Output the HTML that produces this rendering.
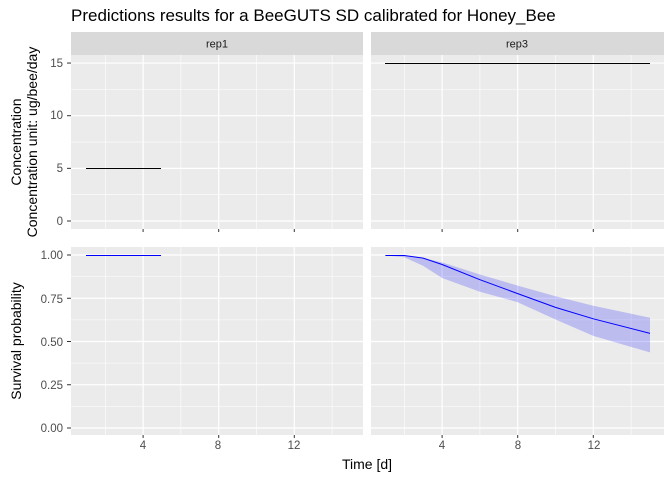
<!DOCTYPE html>
<html><head><meta charset="utf-8"><style>
body{margin:0;background:#fff}
svg{display:block;font-family:"Liberation Sans",Arial,sans-serif}
</style></head><body>
<svg id="s" width="672" height="480" viewBox="0 0 672 480" xmlns="http://www.w3.org/2000/svg">
<rect width="672" height="480" fill="#fff"/>
<text x="71" y="21" font-size="17" fill="#000">Predictions results for a BeeGUTS SD calibrated for Honey_Bee</text>
<rect x="71" y="32" width="292" height="23" fill="#d9d9d9"/>
<rect x="371" y="32" width="293" height="23" fill="#d9d9d9"/>
<text x="217" y="47.5" font-size="11" fill="#1a1a1a" text-anchor="middle">rep1</text>
<text x="517" y="47.5" font-size="11" fill="#1a1a1a" text-anchor="middle">rep3</text>
<g id="panels"></g>
<g font-size="11.5" fill="#4d4d4d" text-anchor="end">
<text x="63" y="67">15</text><text x="63" y="119">10</text><text x="63" y="172">5</text><text x="63" y="225">0</text>
<text x="63" y="259">1.00</text><text x="63" y="303">0.75</text><text x="63" y="346">0.50</text><text x="63" y="389">0.25</text><text x="63" y="432">0.00</text>
</g>
<g font-size="11.5" fill="#4d4d4d" text-anchor="middle">
<text x="143" y="449">4</text><text x="218" y="449">8</text><text x="294" y="449">12</text>
<text x="442" y="449">4</text><text x="518" y="449">8</text><text x="594" y="449">12</text>
</g>
<text x="367" y="469" font-size="14" text-anchor="middle">Time [d]</text>
<text transform="translate(21,142) rotate(-90)" font-size="14" text-anchor="middle">Concentration</text>
<text transform="translate(37,142) rotate(-90)" font-size="14" text-anchor="middle">Concentration unit: ug/bee/day</text>
<text transform="translate(21,341) rotate(-90)" font-size="14" text-anchor="middle">Survival probability</text>
</svg>
<script>
const ns="http://www.w3.org/2000/svg",g=document.getElementById("panels");
function el(t,a){const e=document.createElementNS(ns,t);for(const k in a)e.setAttribute(k,a[k]);g.appendChild(e);return e;}
const P=[{x0:71,x1:363,o:67.5},{x0:371,x1:664,o:366.5}],k=18.9;
const R=[{y0:55,y1:229,yv:v=>221-v*10.53,maj:[0,5,10,15],min:[2.5,7.5,12.5]},{y0:247,y1:435,yv:v=>428-v*173,maj:[0,.25,.5,.75,1],min:[.125,.375,.625,.875]}];
P.forEach((p,pi)=>R.forEach((r,ri)=>{
 el("rect",{x:p.x0,y:r.y0,width:p.x1-p.x0,height:r.y1-r.y0,fill:"#ebebeb"});
 r.min.forEach(v=>el("line",{x1:p.x0,x2:p.x1,y1:r.yv(v),y2:r.yv(v),stroke:"#fff","stroke-width":.6}));
 [2,6,10,14].forEach(v=>el("line",{x1:p.o+v*k,x2:p.o+v*k,y1:r.y0,y2:r.y1,stroke:"#fff","stroke-width":.6}));
 r.maj.forEach(v=>el("line",{x1:p.x0,x2:p.x1,y1:r.yv(v),y2:r.yv(v),stroke:"#fff","stroke-width":1.2}));
 [4,8,12].forEach(v=>el("line",{x1:p.o+v*k,x2:p.o+v*k,y1:r.y0,y2:r.y1,stroke:"#fff","stroke-width":1.2}));
 if(pi==0) r.maj.forEach(v=>el("line",{x1:67,x2:71,y1:r.yv(v),y2:r.yv(v),stroke:"#333"}));
 [4,8,12].forEach(v=>el("line",{x1:p.o+v*k,x2:p.o+v*k,y1:r.y1,y2:r.y1+3,stroke:"#333"}));
}));
el("line",{x1:86,x2:161,y1:168.5,y2:168.5,stroke:"#000"});
el("line",{x1:86,x2:161,y1:255.5,y2:255.5,stroke:"#00f"});
el("line",{x1:385,x2:650,y1:63.5,y2:63.5,stroke:"#000"});
const o=366.5,yv=R[1].yv;
const med=[[1,1],[2,1],[3,.985],[4,.948],[6,.86],[8,.78],[10,.70],[12,.634],[15,.55]];
const up=[[1,1],[2,1],[3,.985],[4,.96],[6,.89],[8,.826],[10,.765],[12,.71],[15,.64]];
const lo=[[1,1],[2,.99],[3,.94],[4,.87],[6,.79],[8,.73],[10,.63],[12,.535],[15,.44]];
const pt=a=>a.map(q=>(o+q[0]*k).toFixed(1)+","+(yv(q[1])+0.5).toFixed(1));
el("polygon",{points:pt(up).concat(pt(lo.slice().reverse())).join(" "),fill:"#0000ff",opacity:.2});
el("polyline",{points:pt(med).join(" "),fill:"none",stroke:"#00f","stroke-width":1});
</script>
</body></html>
